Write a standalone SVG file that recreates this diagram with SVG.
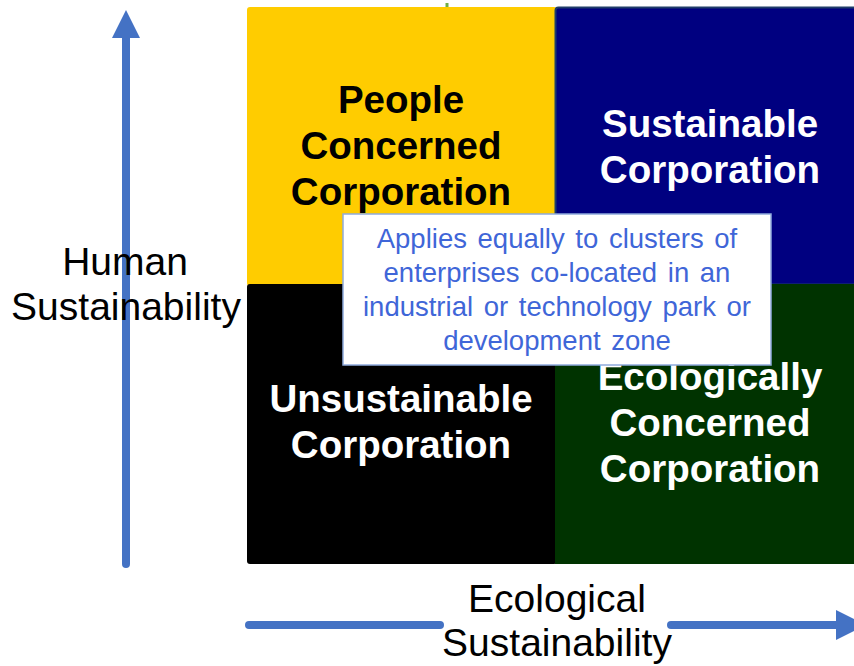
<svg xmlns="http://www.w3.org/2000/svg" width="854" height="666" viewBox="0 0 854 666">
<style>
.q{font-family:"Liberation Sans",Arial,sans-serif;font-weight:bold;font-size:38.5px;text-anchor:middle}
.ax{font-family:"Liberation Sans",Arial,sans-serif;font-size:39px;text-anchor:middle;fill:#000}
.note{font-family:"Liberation Sans",Arial,sans-serif;font-size:27.5px;text-anchor:middle;fill:#3F66D8;word-spacing:3px}
.arrow{stroke:#4472C4;stroke-width:8;stroke-linecap:round;fill:none}
</style>
<rect width="854" height="666" fill="#fff"/>
<g id="connectors">
<line class="arrow" x1="126" y1="564" x2="126" y2="36"/>
<polygon points="112,38 140,38 126,10" fill="#4472C4"/>
<line class="arrow" x1="249" y1="625" x2="440" y2="625" stroke-linecap="butt"/>
<line class="arrow" x1="671" y1="625" x2="840" y2="625" stroke-linecap="butt"/>
<polygon points="836,610 836,640 866,625" fill="#4472C4"/>
</g>
<line x1="447" y1="3" x2="447" y2="8" stroke="#70AD47" stroke-width="3"/>
<g id="people-concerned">
<rect x="247" y="7" width="310" height="279" rx="3" fill="#FFCC00"/>
<text class="q" fill="#000" x="401" y="113">People</text>
<text class="q" fill="#000" x="401" y="159">Concerned</text>
<text class="q" fill="#000" x="401" y="205">Corporation</text>
</g>
<g id="sustainable">
<rect x="555.5" y="7.5" width="310" height="277" rx="3" fill="#000080" stroke="#1F3C6A" stroke-width="2"/>
<text class="q" fill="#fff" x="710" y="137">Sustainable</text>
<text class="q" fill="#fff" x="710" y="183">Corporation</text>
</g>
<g id="unsustainable">
<rect x="247" y="284" width="310" height="280" rx="3" fill="#000"/>
<text class="q" fill="#fff" x="401" y="412">Unsustainable</text>
<text class="q" fill="#fff" x="401" y="458">Corporation</text>
</g>
<g id="ecologically-concerned">
<rect x="555" y="284" width="310" height="280" fill="#003300"/>
<text class="q" fill="#fff" x="710" y="390">Ecologically</text>
<text class="q" fill="#fff" x="710" y="436">Concerned</text>
<text class="q" fill="#fff" x="710" y="482">Corporation</text>
</g>
<g id="note">
<rect x="343" y="214" width="428" height="151" fill="#fff" stroke="#8FAADC" stroke-width="1.5"/>
<text class="note" x="557" y="248">Applies equally to clusters of</text>
<text class="note" x="557" y="282">enterprises co-located in an</text>
<text class="note" x="557" y="316">industrial or technology park or</text>
<text class="note" x="557" y="350">development zone</text>
</g>
<g id="y-axis-label">
<text class="ax" x="125" y="275">Human</text>
<text class="ax" x="126" y="320">Sustainability</text>
</g>
<g id="x-axis-label">
<text class="ax" x="557" y="612">Ecological</text>
<text class="ax" x="557" y="656">Sustainability</text>
</g>
</svg>
